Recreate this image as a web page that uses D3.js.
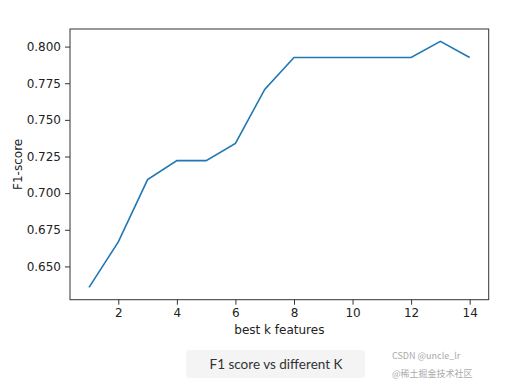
<!DOCTYPE html>
<html>
<head>
<meta charset="utf-8">
<script src="https://cdn.jsdelivr.net/npm/d3@7"></script>
<style>
  body { margin: 0; background: #fff; }
  svg { display: block; }
</style>
</head>
<body>
<div id="chart"></div>
<script>
// dados
var kValues = [1, 2, 3, 4, 5, 6, 7, 8, 9, 10, 11, 12, 13, 14];
var f1Scores = [0.6357, 0.6667, 0.7092, 0.7222, 0.7222, 0.7340, 0.7708, 0.7925,
                0.7925, 0.7925, 0.7925, 0.7925, 0.8036, 0.7925];
var xTicks = [2, 4, 6, 8, 10, 12, 14];
var yTicks = [0.650, 0.675, 0.700, 0.725, 0.750, 0.775, 0.800];

var W = 505, H = 383;
var margin = { top: 29, right: 16.3, bottom: 83.3, left: 70 };
var w = W - margin.left - margin.right,
    h = H - margin.top - margin.bottom;

var svg = d3.select("#chart").append("svg")
    .attr("width", W)
    .attr("height", H);

var g = svg.append("g")
    .attr("transform", `translate(${margin.left},${margin.top})`);

// escalas com margem de 5% como no matplotlib
var xPad = (d3.max(kValues) - d3.min(kValues)) * 0.05;
var yPad = (d3.max(f1Scores) - d3.min(f1Scores)) * 0.05;

var x = d3.scaleLinear()
    .domain([d3.min(kValues) - xPad, d3.max(kValues) + xPad])
    .range([0, w]);

var y = d3.scaleLinear()
    .domain([d3.min(f1Scores) - yPad, d3.max(f1Scores) + yPad])
    .range([h, 0]);

var tickFont = "DejaVu Sans, sans-serif";

// eixo x
var xAxis = g.append("g")
    .attr("transform", `translate(0,${h})`)
    .call(d3.axisBottom(x).tickValues(xTicks).tickSize(5).tickPadding(4).tickFormat(d3.format("d")));

// eixo y
var yAxis = g.append("g")
    .call(d3.axisLeft(y).tickValues(yTicks).tickSize(5).tickPadding(4).tickFormat(d3.format(".3f")));

[xAxis, yAxis].forEach(function(ax) {
    ax.select(".domain").remove();
    ax.selectAll(".tick line").attr("stroke", "#333").attr("stroke-width", 1);
    ax.selectAll(".tick text")
        .attr("fill", "#222")
        .style("font-family", tickFont)
        .style("font-size", "12px");
});

// moldura do gráfico
g.append("rect")
    .attr("x", 0)
    .attr("y", 0)
    .attr("width", w)
    .attr("height", h)
    .attr("fill", "none")
    .attr("stroke", "#333")
    .attr("stroke-width", 1);

// linha dos dados
var line = d3.line()
    .x((d, i) => x(kValues[i]))
    .y(d => y(d));

g.append("path")
    .datum(f1Scores)
    .attr("d", line)
    .attr("fill", "none")
    .attr("stroke", "#1f77b4")
    .attr("stroke-width", 1.6);

// rótulos dos eixos
svg.append("text")
    .attr("x", margin.left + w / 2)
    .attr("y", 334)
    .attr("text-anchor", "middle")
    .style("font-family", tickFont)
    .style("font-size", "12px")
    .attr("fill", "#222")
    .text("best k features");

svg.append("text")
    .attr("transform", `translate(22,${margin.top + h / 2}) rotate(-90)`)
    .attr("text-anchor", "middle")
    .style("font-family", tickFont)
    .style("font-size", "12px")
    .attr("fill", "#222")
    .text("F1-score");

// legenda da figura embaixo
svg.append("rect")
    .attr("x", 186)
    .attr("y", 350)
    .attr("width", 179)
    .attr("height", 28)
    .attr("rx", 4)
    .attr("fill", "#f4f4f4");

svg.append("text")
    .attr("x", 276)
    .attr("y", 369)
    .attr("text-anchor", "middle")
    .style("font-family", "Lato, sans-serif")
    .style("font-size", "13.5px")
    .attr("fill", "#333")
    .text("F1 score vs different K");

// marcas d'água, empilhadas para não se sobreporem
svg.append("text")
    .attr("x", 392)
    .attr("y", 359)
    .style("font-family", "Noto Sans CJK SC, sans-serif")
    .style("font-size", "9px")
    .attr("fill", "#aaa")
    .text("CSDN @uncle_lr");

svg.append("text")
    .attr("x", 392)
    .attr("y", 377)
    .style("font-family", "Noto Sans CJK SC, sans-serif")
    .style("font-size", "9px")
    .attr("fill", "#aaa")
    .text("@稀土掘金技术社区");
</script>
</body>
</html>
